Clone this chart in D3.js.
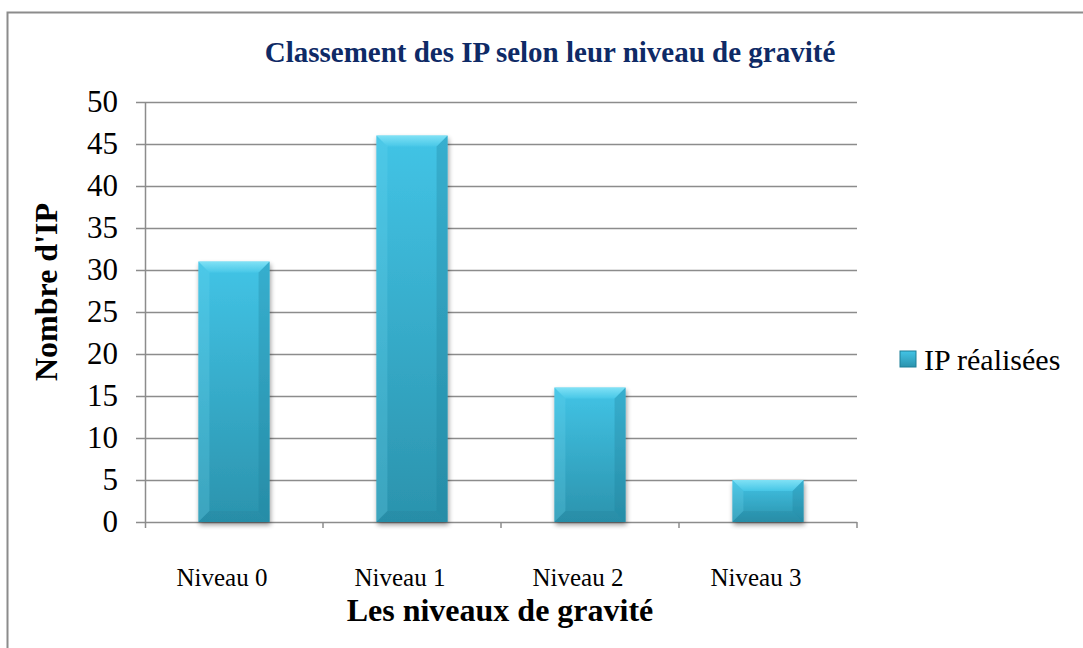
<!DOCTYPE html>
<html>
<head>
<meta charset="utf-8">
<script src="https://cdn.jsdelivr.net/npm/d3@7"></script>
<style>
  body { margin: 0; background: #fff; }
  svg text { font-family: "Liberation Serif", "DejaVu Serif", "Times New Roman", serif; }
</style>
</head>
<body>
<script>
// Data
const categories = ['Niveau 0', 'Niveau 1', 'Niveau 2', 'Niveau 3']
const values = [31, 46, 16, 5]
const yTicks = [0, 5, 10, 15, 20, 25, 30, 35, 40, 45, 50]
const seriesName = 'IP réalisées'

const width = 1083
const height = 648
const margin = { left: 145, right: 226, top: 102, bottom: 126 }

const svg = d3.select('body').append('svg')
  .attr('width', width)
  .attr('height', height)

// Outer frame
svg.append('rect')
  .attr('x', 7.5).attr('y', 12.5)
  .attr('width', 1300).attr('height', 900)
  .attr('fill', 'none')
  .attr('stroke', '#8c8c8c')
  .attr('stroke-width', 2)

const defs = svg.append('defs')
const grad = defs.append('linearGradient')
  .attr('id', 'barGrad').attr('x1', 0).attr('y1', 0).attr('x2', 0).attr('y2', 1)
grad.append('stop').attr('offset', '0%').attr('stop-color', '#42c4e6')
grad.append('stop').attr('offset', '100%').attr('stop-color', '#2b93ad')

const topGrad = defs.append('linearGradient')
  .attr('id', 'topGrad').attr('x1', 0).attr('y1', 0).attr('x2', 0).attr('y2', 1)
topGrad.append('stop').attr('offset', '0%').attr('stop-color', '#8ae6f8')
topGrad.append('stop').attr('offset', '100%').attr('stop-color', '#48c8e8')

const shadow = defs.append('filter').attr('id', 'shadow')
  .attr('x', '-20%').attr('y', '-10%').attr('width', '140%').attr('height', '130%')
shadow.append('feGaussianBlur').attr('in', 'SourceAlpha').attr('stdDeviation', 2.5)
shadow.append('feOffset').attr('dx', 1).attr('dy', 3).attr('result', 'off')
shadow.append('feComponentTransfer').append('feFuncA').attr('type', 'linear').attr('slope', 0.4)
const merge = shadow.append('feMerge')
merge.append('feMergeNode')
merge.append('feMergeNode').attr('in', 'SourceGraphic')

const x = d3.scaleBand()
  .domain(categories)
  .range([margin.left, width - margin.right])
  .paddingInner(0.6)
  .paddingOuter(0.3)

const xOuter = d3.scaleBand()
  .domain(categories)
  .range([margin.left, width - margin.right])

const y = d3.scaleLinear()
  .domain([0, 50])
  .range([height - margin.bottom, margin.top])

// Grid lines
svg.append('g')
  .selectAll('line')
  .data(yTicks)
  .enter()
  .append('line')
  .attr('x1', margin.left - 9)
  .attr('x2', width - margin.right)
  .attr('y1', d => Math.round(y(d)) + 0.5)
  .attr('y2', d => Math.round(y(d)) + 0.5)
  .style('stroke', '#8c8c8c')
  .style('stroke-width', 1.5)

// Y axis line
svg.append('line')
  .attr('x1', margin.left + 0.5).attr('x2', margin.left + 0.5)
  .attr('y1', y(50)).attr('y2', y(0) + 6)
  .style('stroke', '#8c8c8c')
  .style('stroke-width', 1.5)

// X ticks at band boundaries
svg.append('g')
  .selectAll('line')
  .data(categories.slice(1).concat(['end']))
  .enter()
  .append('line')
  .attr('x1', d => d === 'end' ? width - margin.right : xOuter(d))
  .attr('x2', d => d === 'end' ? width - margin.right : xOuter(d))
  .attr('y1', y(0)).attr('y2', y(0) + 6)
  .style('stroke', '#8c8c8c')
  .style('stroke-width', 1.5)

// Y tick labels
svg.append('g')
  .selectAll('text')
  .data(yTicks)
  .enter()
  .append('text')
  .attr('x', margin.left - 27)
  .attr('y', d => y(d) + 10)
  .attr('text-anchor', 'end')
  .style('font-size', '31px')
  .text(d => d)

// Bars
const bars = svg.append('g')
  .selectAll('g')
  .data(values)
  .enter()
  .append('g')
  .attr('filter', 'url(#shadow)')

bars.append('rect')
  .attr('x', (_, i) => x(categories[i]))
  .attr('y', d => y(d))
  .attr('width', x.bandwidth())
  .attr('height', d => y(0) - y(d))
  .attr('fill', 'url(#barGrad)')

const bev = 11
// top bevel (light)
bars.append('polygon')
  .attr('points', (d, i) => {
    const x0 = x(categories[i]), x1 = x0 + x.bandwidth(), t = y(d)
    const b = Math.min(bev, (y(0) - t) / 2)
    return `${x0},${t} ${x1},${t} ${x1 - b},${t + b} ${x0 + b},${t + b}`
  })
  .attr('fill', 'url(#topGrad)')
  .attr('opacity', 0.85)
// left bevel
bars.append('polygon')
  .attr('points', (d, i) => {
    const x0 = x(categories[i]), t = y(d), b0 = y(0)
    const b = Math.min(bev, (b0 - t) / 2)
    return `${x0},${t} ${x0 + b},${t + b} ${x0 + b},${b0 - b} ${x0},${b0}`
  })
  .attr('fill', '#6fd6ee')
  .attr('opacity', 0.25)
// right bevel
bars.append('polygon')
  .attr('points', (d, i) => {
    const x1 = x(categories[i]) + x.bandwidth(), t = y(d), b0 = y(0)
    const b = Math.min(bev, (b0 - t) / 2)
    return `${x1},${t} ${x1 - b},${t + b} ${x1 - b},${b0 - b} ${x1},${b0}`
  })
  .attr('fill', '#1d7f98')
  .attr('opacity', 0.3)
// bottom bevel
bars.append('polygon')
  .attr('points', (d, i) => {
    const x0 = x(categories[i]), x1 = x0 + x.bandwidth(), t = y(d), b0 = y(0)
    const b = Math.min(bev, (b0 - t) / 2)
    return `${x0},${b0} ${x0 + b},${b0 - b} ${x1 - b},${b0 - b} ${x1},${b0}`
  })
  .attr('fill', '#1c7890')
  .attr('opacity', 0.2)

// X labels
svg.append('g')
  .selectAll('text')
  .data(categories)
  .enter()
  .append('text')
  .attr('x', d => xOuter(d) + xOuter.bandwidth() / 2 - 12)
  .attr('y', 586)
  .attr('text-anchor', 'middle')
  .style('font-size', '25px')
  .text(d => d)

// Axis titles
svg.append('text')
  .attr('x', 500)
  .attr('y', 621)
  .attr('text-anchor', 'middle')
  .style('font-size', '32px')
  .style('font-weight', 'bold')
  .text('Les niveaux de gravité')

svg.append('text')
  .attr('transform', 'translate(57, 292) rotate(-90)')
  .attr('text-anchor', 'middle')
  .style('font-size', '32px')
  .style('font-weight', 'bold')
  .text('Nombre d\'IP')

// Title
svg.append('text')
  .attr('x', 550)
  .attr('y', 62)
  .attr('text-anchor', 'middle')
  .style('font-size', '29px')
  .style('font-weight', 'bold')
  .style('fill', '#0e2a66')
  .text('Classement des IP selon leur niveau de gravité')

// Legend
const legend = svg.append('g')
legend.append('rect')
  .attr('x', 900).attr('y', 351)
  .attr('width', 16).attr('height', 16)
  .attr('fill', 'url(#barGrad)')
  .attr('stroke', '#1d7f98')
  .attr('stroke-width', 1)
legend.append('text')
  .attr('x', 924)
  .attr('y', 370)
  .style('font-size', '30px')
  .text(seriesName)
</script>
</body>
</html>
